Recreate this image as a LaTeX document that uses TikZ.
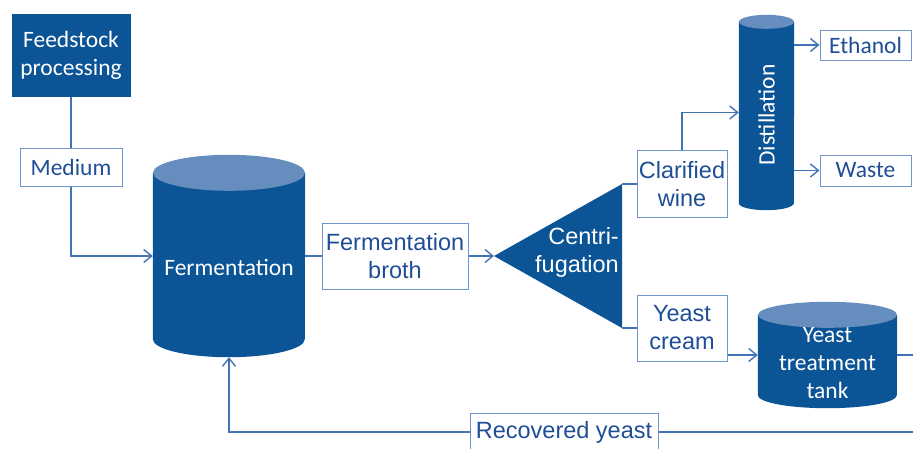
\documentclass[tikz,border=0pt]{standalone}
\usepackage{fontspec}
\setmainfont{Carlito}
\newfontfamily\arialfont{Liberation Sans}
\usetikzlibrary{arrows.meta}

\definecolor{procblue}{RGB}{11,84,150}
\definecolor{capblue}{RGB}{101,141,190}
\definecolor{linkblue}{RGB}{65,116,180}
\definecolor{edgeblue}{RGB}{110,150,205}
\definecolor{labelblue}{RGB}{31,78,151}

% filled cylinder round the (empty) node #1: half width #2, cap radius #3
\newcommand{\vessel}[3]{%
  \fill[procblue] ([yshift=-#3]#1.north west) -- ([yshift=#3]#1.south west)
    arc[start angle=180, end angle=360, x radius=#2, y radius=#3]
    -- ([yshift=-#3]#1.north east) -- cycle;
  \fill[capblue] ([yshift=-#3]#1.north) ellipse[x radius=#2, y radius=#3];
}

\begin{document}
\begin{tikzpicture}[x=1pt,y=-1pt,
        >={Straight Barb[length=8pt,width=13pt]},
        every node/.style={font=\fontsize{23.5}{28}\selectfont},
        unit/.style={fill=procblue,text=white,align=center,inner sep=0pt},
        stream/.style={draw=edgeblue,fill=white,text=labelblue,align=center,
            inner sep=0pt,line width=1pt},
        arialtext/.style={font=\arialfont\fontsize{23.5}{28}\selectfont},
        vesselbody/.style={inner sep=0pt},
        vesseltext/.style={text=white,align=center,inner sep=0pt},
        flow/.style={draw=linkblue,line width=1.4pt}]

    \useasboundingbox (0,0) rectangle (913,448);

    % feed side
    \node[unit,minimum width=119pt,minimum height=83pt] (feed) at (71,55.5)
        {Feedstock\\processing};
    \node[stream,minimum width=102pt,minimum height=38pt] (medium) at (71,167)
        {Medium};

    % vessels
    \node[vesselbody,minimum width=152pt,minimum height=202pt] (ferm) at (229,256) {};
    \vessel{ferm}{76pt}{18pt}
    \node[vesseltext] (fermlabel) at ([yshift=-11pt]ferm.center) {Fermentation};

    \node[vesselbody,minimum width=55pt,minimum height=195pt] (dist) at (766.5,112.5) {};
    \vessel{dist}{27.5pt}{7pt}
    \node[vesseltext,rotate=90] (distlabel) at ([yshift=-2.5pt]dist.center) {Distillation};

    \node[vesselbody,minimum width=139pt,minimum height=106pt] (tank) at (827.5,355) {};
    \vessel{tank}{69.5pt}{13pt}
    \node[vesseltext] (tanklabel) at ([yshift=-8pt]tank.center) {Yeast\\treatment\\tank};

    % centrifuge
    \fill[procblue] (494,256) coordinate (ctip) -- (622,184) coordinate (ctop)
        -- (622,328) coordinate (cbot) -- cycle;
    \node[vesseltext,arialtext,align=right,anchor=east] (centri) at (619,252)
        {Centri-\\fugation};

    % streams
    \node[stream,arialtext,minimum width=146pt,minimum height=66pt] (broth) at (395,256)
        {Fermentation\\broth};
    \node[stream,arialtext,minimum width=90pt,minimum height=67pt] (wine) at (682,184)
        {Clarified\\wine};
    \node[stream,arialtext,minimum width=90pt,minimum height=66pt] (cream) at (682,328)
        {Yeast\\cream};
    \node[stream,minimum width=91pt,minimum height=30pt] (ethanol) at (865.5,45)
        {Ethanol};
    \node[stream,minimum width=91pt,minimum height=31pt] (waste) at (865.5,170.5)
        {Waste};
    \node[stream,arialtext,minimum width=188pt,minimum height=38pt] (recovered) at (564,432)
        {Recovered yeast};

    \coordinate (tankout) at (915,355);
    \coordinate (recyclein) at (915,432);

    % connectors
    \draw[flow] (feed) -- (medium);
    \draw[flow,->] (medium.south) |- (ferm.west);
    \draw[flow] (ferm.east) -- (broth.west);
    \draw[flow,->] (broth.east) -- (ctip);
    \draw[flow] (ctop) -- (wine.west);
    \draw[flow] (cbot) -- (cream.west);
    \draw[flow,->] (wine.north) |- (dist.west);
    \draw[flow,->] (ethanol.west -| dist.east) -- (ethanol.west);
    \draw[flow,->] (waste.west -| dist.east) -- (waste.west);
    \draw[flow,->] (tank.west -| cream.east) -- (tank.west);
    \draw[flow] (tank.east) -- (tankout);
    \draw[flow] (recyclein) -- (recovered.east);
    \draw[flow,->] (recovered.west) -| (ferm.south);
\end{tikzpicture}
\end{document}
